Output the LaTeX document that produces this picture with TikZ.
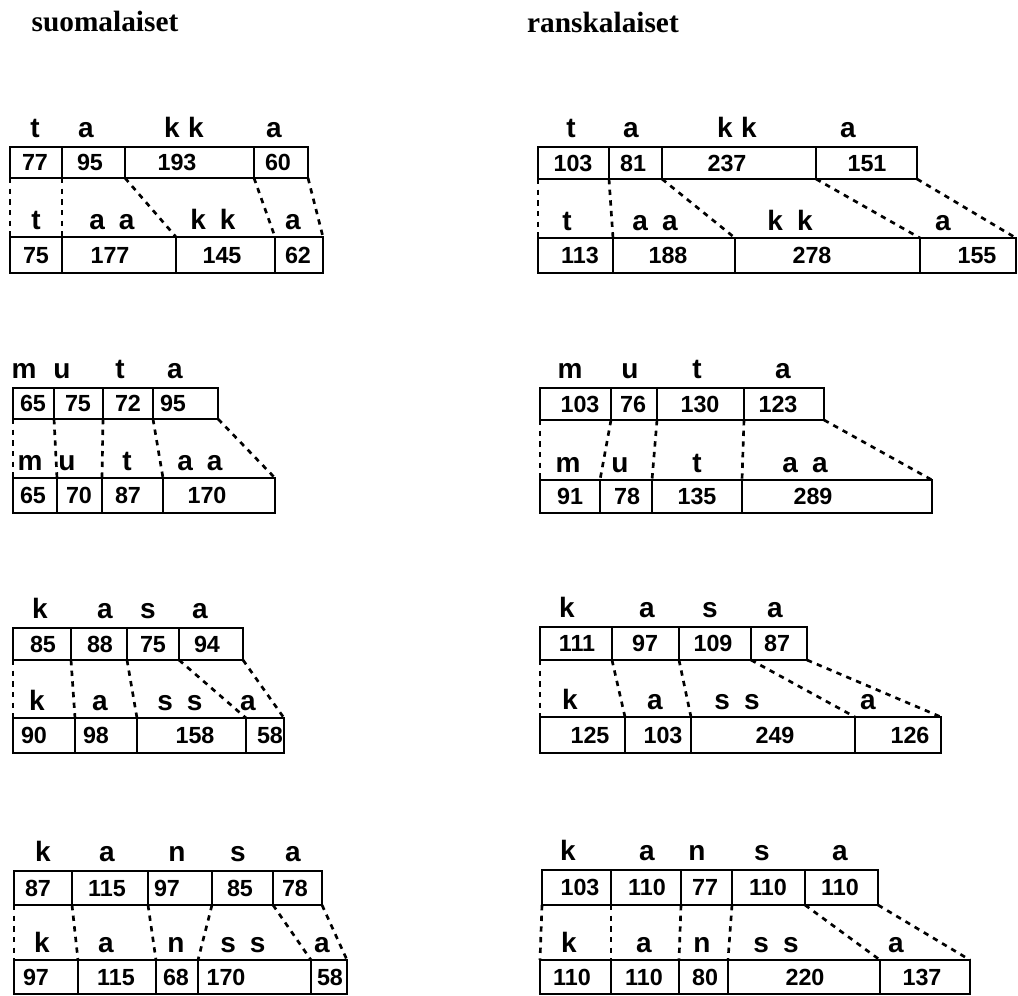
\documentclass[tikz,border=0pt]{standalone}
\usepackage{fontspec}
\setmainfont{Liberation Serif}
\newfontfamily\geneva{Liberation Sans}
\newcommand\tk[1]{#1\hspace{0.3em}#1}
\newcommand\dbl[1]{#1\hspace{0.5em}#1}
\tikzset{
  cellbox/.style={draw,line width=2pt,rectangle,inner sep=0pt,outer sep=0pt},
  num/.style={font=\geneva\bfseries\fontsize{17.5}{19}\selectfont,inner sep=0pt,anchor=base},
  let/.style={font=\geneva\bfseries\fontsize{21}{22}\selectfont,inner sep=0pt,anchor=base},
  head/.style={font=\bfseries\fontsize{22}{24}\selectfont,inner sep=0pt},
  conn/.style={line width=2pt,dash pattern=on 4pt off 4pt}
}
\newcommand\cellrow[4]{%
  \foreach \n/\xa/\xb/\v/\xc in {#4} {%
    \node[cellbox,minimum width={(\xb-\xa)*0.75pt},minimum height={(#3-#2)*0.75pt}] (#1\n) at ({(\xa+\xb)/2},{(#2+#3)/2}) {};
    \node[num] (#1\n v) at (\xc,{(#2+#3)/2+8.3}) {\v};
  }}
\newcommand\letrow[3]{%
  \foreach \n/\xc/\t in {#3} {\node[let] (#1\n) at (\xc,#2) {\t};}}
\newcommand\conns[3]{%
  \foreach \n in {1,...,#3} {\draw[conn] (#1\n.south west) -- (#2\n.north west);}
  \draw[conn] (#1#3.south east) -- (#2#3.north east);}
\begin{document}
\begin{tikzpicture}[x=0.75pt,y=-0.75pt]
\useasboundingbox (0,0) rectangle (1018,996);
\node[head] (h1) at (105,22) {suomalaiset};
\node[head] (h2) at (603,22) {ranskalaiset};
% ---- A1 takka (fi)
\letrow{A1l}{137}{1/35/t,2/86/a,3/184/\tk{k},4/274/a}
\cellrow{A1t}{147}{178}{1/10/62/77/35,2/62/125/95/90,3/125/254/193/177,4/254/308/60/278}
\letrow{A1m}{229}{1/36/t,2/112/\dbl{a},3/213/\dbl{k},4/293/a}
\cellrow{A1b}{237}{273}{1/10/62/75/36,2/62/176/177/110,3/176/275/145/222,4/275/323/62/298}
\conns{A1t}{A1b}{4}
% ---- B1 takka (fr)
\letrow{B1l}{137}{1/571/t,2/631/a,3/737/\tk{k},4/848/a}
\cellrow{B1t}{147}{179}{1/538/609/103/573,2/609/662/81/633,3/662/816/237/727,4/816/917/151/867}
\letrow{B1m}{230}{1/567/t,2/655/\dbl{a},3/790/\dbl{k},4/943/a}
\cellrow{B1b}{238}{273}{1/538/613/113/580,2/613/735/188/668,3/735/920/278/812,4/920/1016/155/977}
\conns{B1t}{B1b}{4}
% ---- A2 muta (fi)
\letrow{A2l}{378}{1/24/m,2/62/u,3/120/t,4/175/a}
\cellrow{A2t}{388}{419}{1/13/54/65/33,2/54/103/75/78,3/103/153/72/128,4/153/218/95/173}
\letrow{A2m}{470}{1/30/m,2/67/u,3/127/t,4/200/\dbl{a}}
\cellrow{A2b}{478}{513}{1/13/57/65/33,2/57/102/70/79,3/102/163/87/128,4/163/275/170/207}
\conns{A2t}{A2b}{4}
% ---- B2 muta (fr)
\letrow{B2l}{378}{1/570/m,2/630/u,3/697/t,4/783/a}
\cellrow{B2t}{388}{420}{1/540/611/103/580,2/611/657/76/633,3/657/744/130/700,4/744/824/123/778}
\letrow{B2m}{472}{1/568/m,2/620/u,3/697/t,4/805/\dbl{a}}
\cellrow{B2b}{480}{513}{1/540/600/91/570,2/600/652/78/627,3/652/742/135/697,4/742/932/289/813}
\conns{B2t}{B2b}{4}
% ---- A3 kasa (fi)
\letrow{A3l}{618}{1/40/k,2/105/a,3/148/s,4/200/a}
\cellrow{A3t}{628}{660}{1/13/71/85/43,2/71/127/88/100,3/127/179/75/153,4/179/243/94/207}
\letrow{A3m}{710}{1/37/k,2/100/a,3/180/\dbl{s},4/248/a}
\cellrow{A3b}{718}{753}{1/13/75/90/34,2/75/137/98/96,3/137/246/158/195,4/246/284/58/270}
\conns{A3t}{A3b}{4}
% ---- B3 kasa (fr)
\letrow{B3l}{617}{1/567/k,2/647/a,3/710/s,4/775/a}
\cellrow{B3t}{627}{660}{1/540/612/111/577,2/612/679/97/645,3/679/751/109/713,4/751/807/87/777}
\letrow{B3m}{709}{1/570/k,2/655/a,3/737/\dbl{s},4/868/a}
\cellrow{B3b}{717}{753}{1/540/625/125/590,2/625/691/103/663,3/691/855/249/775,4/855/941/126/910}
\conns{B3t}{B3b}{4}
% ---- A4 kansa (fi)
\letrow{A4l}{861}{1/43/k,2/107/a,3/177/n,4/238/s,5/293/a}
\cellrow{A4t}{871}{905}{1/14/72/87/38,2/72/148/115/107,3/148/212/97/167,4/212/273/85/240,5/273/322/78/295}
\letrow{A4m}{952}{1/42/k,2/106/a,3/176/n,4/243/\dbl{s},5/322/a}
\cellrow{A4b}{960}{994}{1/14/78/97/36,2/78/156/115/116,3/156/198/68/176,4/198/311/170/226,5/311/347/58/330}
\conns{A4t}{A4b}{5}
% ---- B4 kansa (fr)
\letrow{B4l}{860}{1/568/k,2/647/a,3/697/n,4/762/s,5/840/a}
\cellrow{B4t}{870}{905}{1/542/611/103/580,2/611/681/110/647,3/681/732/77/705,4/732/805/110/768,5/805/878/110/840}
\letrow{B4m}{952}{1/569/k,2/644/a,3/702/n,4/776/\dbl{s},5/896/a}
\cellrow{B4b}{960}{994}{1/540/611/110/572,2/611/679/110/644,3/679/728/80/705,4/728/880/220/805,5/880/970/137/922}
\conns{B4t}{B4b}{5}
\end{tikzpicture}
\end{document}
